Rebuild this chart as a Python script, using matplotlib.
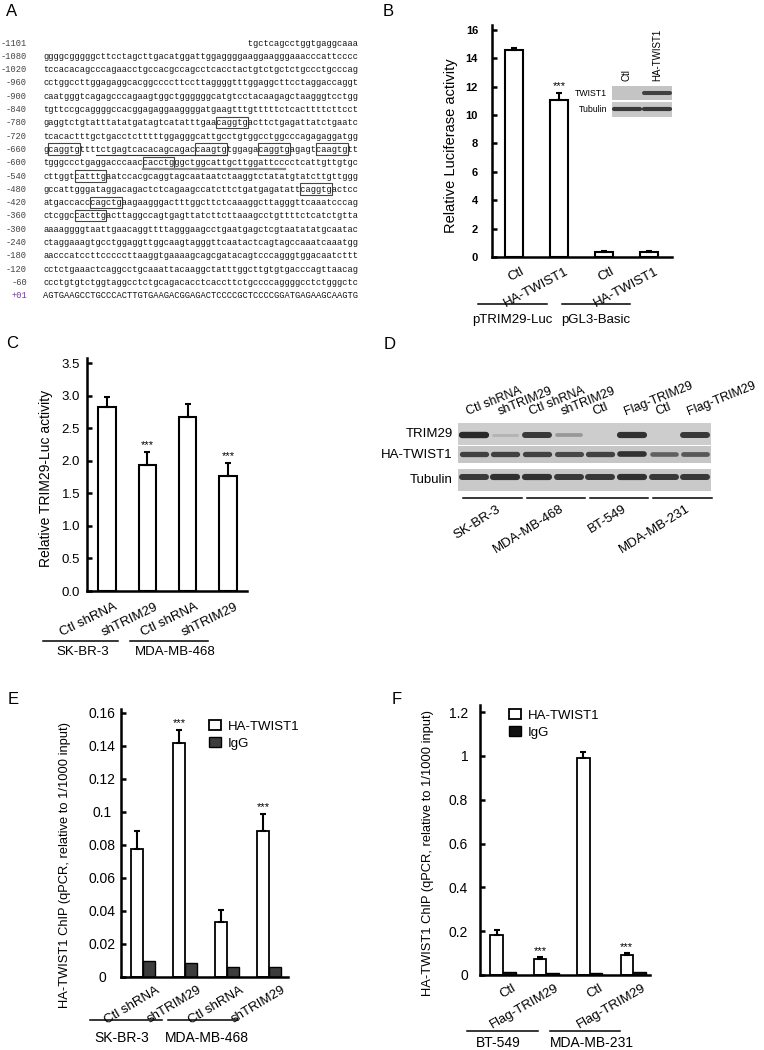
import numpy as np
import matplotlib
matplotlib.use('Agg')
import matplotlib.pyplot as plt
from matplotlib.patches import Rectangle
from matplotlib.transforms import blended_transform_factory, offset_copy

plt.rcParams['font.family'] = ['Liberation Sans', 'DejaVu Sans']

W, H = 764, 1050

# ---------------- data ----------------
# A: TRIM29 promoter sequence
seq_pos = ['-1101', '-1080', '-1020', '-960', '-900', '-840', '-780', '-720', '-660', '-600',
           '-540', '-480', '-420', '-360', '-300', '-240', '-180', '-120', '-60', '+01']
seq_rows = [
    'tgctcagcctggtgaggcaaa',
    'ggggcgggggcttcctagcttgacatggattggaggggaaggaagggaaacccattcccc',
    'tccacacagcccagaacctgccacgccagcctcacctactgtctgctctgccctgcccag',
    'cctggccttggagaggcacggccccttccttaggggtttggaggcttcctaggaccaggt',
    'caatgggtcagagcccagaagtggctggggggcatgtcctacaagagctaagggtcctgg',
    'tgttccgcaggggccacggagaggaaggggatgaagtttgtttttctcacttttcttcct',
    'gaggtctgtatttatatgatagtcatatttgaacaggtgacttctgagattatctgaatc',
    'tcacactttgctgacctctttttggagggcattgcctgtggcctggcccagagaggatgg',
    'gcaggtgttttctgagtcacacagcagaccaagtgtggagacaggtgagagtcaagtgtt',
    'tgggccctgaggacccaaccacctgggctggcattgcttggattcccctcattgttgtgc',
    'cttggtcatttgaatccacgcaggtagcaataatctaaggtctatatgtatcttgttggg',
    'gccattgggataggacagactctcagaagccatcttctgatgagatattcaggtgactcc',
    'atgaccacccagctgaagaagggactttggcttctcaaaggcttagggttcaaatcccag',
    'ctcggccacttgacttaggccagtgagttatcttcttaaagcctgttttctcatctgtta',
    'aaaaggggtaattgaacaggttttagggaagcctgaatgagctcgtaatatatgcaatac',
    'ctaggaaagtgcctggaggttggcaagtagggttcaatactcagtagccaaatcaaatgg',
    'aacccatccttcccccttaaggtgaaaagcagcgatacagtcccagggtggacaatcttt',
    'cctctgaaactcaggcctgcaaattacaaggctatttggcttgtgtgacccagttaacag',
    'ccctgtgtctggtaggcctctgcagacacctcaccttctgccccaggggcctctgggctc',
    'AGTGAAGCCTGCCCACTTGTGAAGACGGAGACTCCCCGCTCCCCGGATGAGAAGCAAGTG',
]
# E-boxes (row, first nucleotide), 6 nt each
ebox_sites = [(6, 33), (8, 1), (8, 29), (8, 41), (8, 52), (9, 19),
              (10, 6), (11, 49), (12, 9), (13, 6)]
# underlined stretches (row, start, end)
underlines = [(8, 10, 35, '#333333', 0.8), (9, 19, 46, '#8a8a8a', 1.6)]

# B: luciferase reporter
b_labels = ['Ctl', 'HA-TWIST1', 'Ctl', 'HA-TWIST1']
b_values = [14.6, 11.05, 0.35, 0.35]
b_errors = [0.12, 0.52, 0.06, 0.06]
b_sig = [1]
b_groups = ['pTRIM29-Luc', 'pGL3-Basic']
inset_lanes = ['Ctl', 'HA-TWIST1']
inset_rows = ['TWIST1', 'Tubulin']
inset_bands = [[0.0, 0.85], [0.9, 0.9]]

# C: TRIM29-Luc after knockdown
c_labels = ['Ctl shRNA', 'shTRIM29', 'Ctl shRNA', 'shTRIM29']
c_values = [2.83, 1.93, 2.67, 1.76]
c_errors = [0.15, 0.21, 0.20, 0.21]
c_sig = [1, 3]
c_groups = ['SK-BR-3', 'MDA-MB-468']

# D: western blot
d_lanes = ['Ctl shRNA', 'shTRIM29', 'Ctl shRNA', 'shTRIM29', 'Ctl', 'Flag-TRIM29', 'Ctl', 'Flag-TRIM29']
d_rows = ['TRIM29', 'HA-TWIST1', 'Tubulin']
d_bands = [[1.0, 0.12, 0.9, 0.3, 0.0, 0.95, 0.0, 0.9],
           [0.85, 0.85, 0.85, 0.8, 0.85, 0.95, 0.65, 0.7],
           [0.9, 0.95, 0.95, 0.9, 0.9, 0.95, 0.9, 0.9]]
d_groups = ['SK-BR-3', 'MDA-MB-468', 'BT-549', 'MDA-MB-231']

# E: ChIP in knockdown cells
e_labels = ['Ctl shRNA', 'shTRIM29', 'Ctl shRNA', 'shTRIM29']
e_twist = [0.0776, 0.1418, 0.0333, 0.0885]
e_twist_err = [0.011, 0.008, 0.0073, 0.0103]
e_igg = [0.0097, 0.0085, 0.006, 0.006]
e_sig = [1, 3]
e_groups = ['SK-BR-3', 'MDA-MB-468']
e_ticks = [0, 0.02, 0.04, 0.06, 0.08, 0.1, 0.12, 0.14, 0.16]

# F: ChIP in TRIM29-overexpressing cells
f_labels = ['Ctl', 'Flag-TRIM29', 'Ctl', 'Flag-TRIM29']
f_twist = [0.183, 0.073, 0.99, 0.091]
f_twist_err = [0.022, 0.009, 0.028, 0.009]
f_igg = [0.012, 0.008, 0.01, 0.013]
f_sig = [1, 3]
f_groups = ['BT-549', 'MDA-MB-231']
f_ticks = [0, 0.2, 0.4, 0.6, 0.8, 1, 1.2]

# ---------------- helpers ----------------
fig = plt.figure(figsize=(W / 100, H / 100), dpi=100)


def px_axes(x0, y0, x1, y1):
    return fig.add_axes([x0 / W, 1 - y1 / H, (x1 - x0) / W, (y1 - y0) / H])


def fy(y):
    return 1 - y / H


def style(ax, size, pad, bold=False):
    for s in ['top', 'right']:
        ax.spines[s].set_visible(False)
    for s in ['left', 'bottom']:
        ax.spines[s].set_linewidth(1.8)
    ax.tick_params(axis='y', direction='in', length=3.6, width=1.8, labelsize=size, pad=pad)
    ax.tick_params(axis='x', length=0, labelbottom=False)
    if bold:
        for t in ax.get_yticklabels():
            t.set_fontweight('bold')


def slanted(ax, pos, labels, rot, dx, dy, size):
    tr = offset_copy(ax.get_xaxis_transform(), fig=fig, x=dx, y=-dy, units='dots')
    for p, lab in zip(pos, labels):
        ax.text(p, 0, lab, transform=tr, rotation=rot, ha='right', va='top',
                rotation_mode='anchor', fontsize=size)


def groups(ax, spans, labels, centers, line_y, label_y, size):
    tr = blended_transform_factory(ax.transData, fig.transFigure)
    for (a, b), lab, c in zip(spans, labels, centers):
        ax.plot([a, b], [fy(line_y), fy(line_y)], transform=tr, color='black', lw=1.1, clip_on=False)
        ax.text(c, fy(label_y), lab, transform=tr, ha='center', va='center', fontsize=size)


def stars(ax, xs, tops, size=8):
    for x, t in zip(xs, tops):
        ax.annotate('***', (x, t), xytext=(0, 1), textcoords='offset points',
                    ha='center', va='bottom', fontsize=size)


def blot(ax, strips, bands, band_y, lane_half, thick):
    ax.set_xlim(-0.5, len(bands[0]) - 0.5)
    ax.axis('off')
    for (y0, y1), shade in strips:
        ax.add_patch(Rectangle((-0.5, y0), len(bands[0]), y1 - y0, color=shade, lw=0))
    for row, yb, th in zip(bands, band_y, thick):
        for i, v in enumerate(row):
            if v > 0:
                ax.plot([i - lane_half, i + lane_half], [yb, yb], color=str(0.78 - 0.62 * v),
                        lw=th * (0.4 + 0.6 * v), solid_capstyle='round')


def letter(x, y, s):
    fig.text(x / W, fy(y), s, fontsize=12, ha='left', va='center')


err_kw = dict(elinewidth=1.5, capsize=2, capthick=1.5, ecolor='black')

# ---------------- A ----------------
letter(6, 12, 'A')
ax_a = px_axes(0, 0, 380, 310)
ax_a.set_xlim(0, 380)
ax_a.set_ylim(310, 0)
ax_a.axis('off')
row_y = [43 + 13.3 * i for i in range(len(seq_rows))]
seq_texts = []
for i, (p, s) in enumerate(zip(seq_pos, seq_rows)):
    col = '#7a3a9a' if p.startswith('+') else '#444444'
    ax_a.text(27, row_y[i], p, ha='right', va='center', family='Liberation Mono', fontsize=6.3, color=col)
    t = ax_a.text(43, row_y[i], s.rjust(60), ha='left', va='center', family='Liberation Mono',
                  fontsize=6.34, color='#151515')
    seq_texts.append(t)

renderer = fig.canvas.get_renderer()
inv = ax_a.transData.inverted()


def char_x(row, idx):
    bb = seq_texts[row].get_window_extent(renderer)
    cw = bb.width / 60.0
    return inv.transform((bb.x0 + idx * cw, bb.y0))[0]


for row, start in ebox_sites:
    x0 = char_x(row, start)
    x1 = char_x(row, start + 6)
    ax_a.add_patch(Rectangle((x0, row_y[row] - 6), x1 - x0, 11.5, fill=False, ec='#444444', lw=0.8))
for row, a, b, col, lw in underlines:
    ax_a.plot([char_x(row, a), char_x(row, b)], [row_y[row] + 6] * 2, color=col, lw=lw)

# ---------------- B ----------------
letter(383, 12, 'B')
ax_b = px_axes(492, 25, 672, 257)
xb = np.arange(len(b_values))
ax_b.bar(xb, b_values, 0.4, color='white', edgecolor='black', linewidth=1.5,
         yerr=[np.zeros(len(b_errors)), b_errors], error_kw=err_kw)
ax_b.set_xlim(-0.49, 3.51)
ax_b.set_ylim(0, 16.35)
ax_b.set_yticks(np.arange(0, 17, 2))
style(ax_b, 8, 10, bold=True)
ax_b.set_ylabel('Relative Luciferase activity', fontsize=10.5)
ax_b.yaxis.set_label_coords((458 - 492) / 180, (257 - 146) / 232)
stars(ax_b, xb[b_sig], [b_values[i] + b_errors[i] for i in b_sig])
slanted(ax_b, xb, b_labels, 28, 6, 8, 9.5)
groups(ax_b, [(-0.8, 0.73), (1.07, 2.58)], b_groups, [-0.04, 1.82], 304, 320, 9.5)

ax_in = px_axes(612, 86, 672, 117)
ax_in.set_ylim(117, 86)
blot(ax_in, [((86, 100), '#c4c4c4'), ((101.5, 117), '#c8c8c8')], inset_bands, [92.5, 108.5], 0.42, [3.2, 3.2])
for name, yv in zip(inset_rows, [93, 109]):
    fig.text(607 / W, fy(yv), name, ha='right', va='center', fontsize=6.3)
for name, xv in zip(inset_lanes, [0, 1]):
    ax_in.text(xv, 81, name, ha='center', va='bottom', rotation=90, fontsize=7, clip_on=False)

# ---------------- C ----------------
letter(6, 343, 'C')
ax_c = px_axes(87, 358, 247, 591)
xc = np.arange(len(c_values))
ax_c.bar(xc, c_values, 0.43, color='white', edgecolor='black', linewidth=1.5,
         yerr=[np.zeros(len(c_errors)), c_errors], error_kw=err_kw)
ax_c.set_xlim(-0.5, 3.47)
ax_c.set_ylim(0, 3.577)
ax_c.set_yticks(np.arange(0, 3.6, 0.5))
ax_c.set_yticklabels(['%.1f' % v for v in np.arange(0, 3.6, 0.5)])
style(ax_c, 9.5, 5)
ax_c.set_ylabel('Relative TRIM29-Luc activity', fontsize=10)
ax_c.yaxis.set_label_coords((53 - 87) / 160, (591 - 478) / 233)
stars(ax_c, xc[c_sig], [c_values[i] + c_errors[i] for i in c_sig])
slanted(ax_c, xc, c_labels, 26, 7, 10, 9.5)
groups(ax_c, [(-1.6, 0.27), (0.57, 2.5)], c_groups, [-0.6, 1.69], 641, 652, 9.5)

# ---------------- D ----------------
letter(384, 345, 'D')
ax_d = px_axes(458, 423, 711, 491)
ax_d.set_ylim(491, 423)
blot(ax_d, [((423, 445), '#cdcdcd'), ((446, 463), '#c6c6c6'), ((469, 491), '#c9c9c9')],
     d_bands, [435.5, 454.5, 477.5], 0.38, [4.6, 4.2, 4.6])
for name, yv in zip(d_rows, [434, 455, 480]):
    fig.text(453 / W, fy(yv), name, ha='right', va='center', fontsize=9.5)
for i, name in enumerate(d_lanes):
    ax_d.text(i - 0.15, 418, name, rotation=22, ha='left', va='bottom', rotation_mode='anchor',
              fontsize=9, clip_on=False)
for g, name in enumerate(d_groups):
    ax_d.plot([2 * g - 0.33, 2 * g + 1.52], [498, 498], color='black', lw=1.1, clip_on=False)
    ax_d.text(2 * g + 0.7, 503, name, rotation=32, ha='right', va='top', rotation_mode='anchor',
              fontsize=9.5, clip_on=False)


# ---------------- E / F ----------------
def chip(ax, twist, err, igg, dark, ticks, ticklabels, ylim, xlim, w=0.29):
    x = np.arange(len(twist))
    b1 = ax.bar(x - w / 2, twist, w, color='white', edgecolor='black', linewidth=1.3,
                yerr=[np.zeros(len(err)), err], error_kw=err_kw, label='HA-TWIST1')
    b2 = ax.bar(x + w / 2, igg, w, color=dark, edgecolor='black', linewidth=1.0, label='IgG')
    ax.set_xlim(*xlim)
    ax.set_ylim(*ylim)
    ax.set_yticks(ticks)
    ax.set_yticklabels(ticklabels)
    return x, b1, b2


letter(8, 700, 'E')
ax_e = px_axes(121, 709, 288, 977)
xe, _, _ = chip(ax_e, e_twist, e_twist_err, e_igg, '#3c3c3c', e_ticks,
                ['%g' % v for v in e_ticks], (0, 0.1624), (-0.524, 3.45))
style(ax_e, 10, 13.5)
for t in ax_e.get_yticklabels():
    t.set_ha('center')
ax_e.set_ylabel('HA-TWIST1 ChIP (qPCR, relative to 1/1000 input)', fontsize=9.3)
ax_e.yaxis.set_label_coords((71 - 121) / 167, (977 - 865) / 268)
stars(ax_e, xe[e_sig] - 0.145, [e_twist[i] + e_twist_err[i] for i in e_sig])
slanted(ax_e, xe, e_labels, 31, 12, 7, 9.5)
groups(ax_e, [(-1.26, 0.45), (0.6, 2.26)], e_groups, [-0.5, 1.52], 1020, 1038, 10)
ax_e.legend(loc='upper left', bbox_to_anchor=(209 / W, fy(720)), bbox_transform=fig.transFigure,
            frameon=False, fontsize=9.5, handlelength=0.9, handleheight=0.8, labelspacing=0.35,
            handletextpad=0.5, borderpad=0, borderaxespad=0)

letter(392, 700, 'F')
ax_f = px_axes(480, 705, 650, 975)
xf, _, _ = chip(ax_f, f_twist, f_twist_err, f_igg, '#111111', f_ticks,
                ['%g' % v for v in f_ticks], (0, 1.232), (-0.53, 3.39))
style(ax_f, 10, 8.5)
ax_f.set_ylabel('HA-TWIST1 ChIP (qPCR, relative to 1/1000 input)', fontsize=9.3)
ax_f.yaxis.set_label_coords((434 - 480) / 170, (975 - 853) / 270)
stars(ax_f, xf[f_sig] - 0.145, [f_twist[i] + f_twist_err[i] for i in f_sig])
slanted(ax_f, xf, f_labels, 30, 9, 7, 9.5)
groups(ax_f, [(-0.83, 0.81), (1.09, 2.7)], f_groups, [-0.12, 2.06], 1031, 1043, 10)
ax_f.legend(loc='upper left', bbox_to_anchor=(509 / W, fy(709)), bbox_transform=fig.transFigure,
            frameon=False, fontsize=9.5, handlelength=0.9, handleheight=0.8, labelspacing=0.35,
            handletextpad=0.5, borderpad=0, borderaxespad=0)

fig.savefig('out.png', dpi=100)
